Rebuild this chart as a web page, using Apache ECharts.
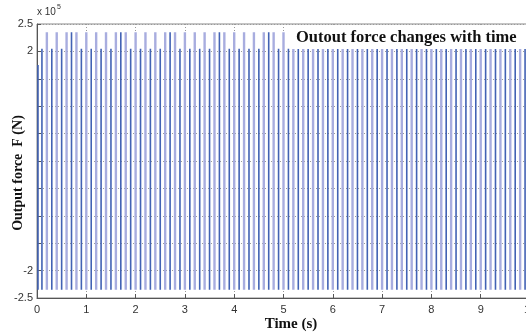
<!DOCTYPE html>
<html>
<head>
<meta charset="utf-8">
<script src="https://cdn.jsdelivr.net/npm/echarts@6/dist/echarts.min.js"></script>
<style>html,body{margin:0;padding:0;background:#fff;overflow:hidden}#c{width:526px;height:335px}</style>
</head>
<body>
<div id="c"></div>
<script>
// Output force in units of 1e5 N
const xTicks = [0,1,2,3,4,5,6,7,8,9,10];
const yTickLabels = ['-2.5','-2','2','2.5'];
const lightTimes = [0.2,0.4,0.6,0.8,1.0,1.2,1.4,1.6,1.8,2.0,2.2,2.4,2.6,2.8,3.0,3.2,3.4,3.6,3.8,4.0,4.2,4.4,4.6,4.8,5.0,5.2,5.4,5.6,5.8,6.0,6.2,6.4,6.6,6.8,7.0,7.2,7.4,7.6,7.8,8.0,8.2,8.4,8.6,8.8,9.0,9.2,9.4,9.6,9.8];
const lightTop = 2.35;
const lightBottom = -2.35;
const darkTimes = [0.02,0.1,0.3,0.5,0.7,0.9,1.1,1.3,1.5,1.7,1.9,2.1,2.3,2.5,2.7,2.9,3.1,3.3,3.5,3.7,3.9,4.1,4.3,4.5,4.7,4.9,5.1,5.3,5.5,5.7,5.9,6.1,6.3,6.5,6.7,6.9,7.1,7.3,7.5,7.7,7.9,8.1,8.3,8.5,8.7,8.9,9.1,9.3,9.5,9.7,9.9];
const darkTops = [1.75,2.05,2.05,2.05,2.35,2.05,2.05,2.05,2.05,2.35,2.05,2.05,2.05,2.05,2.35,2.05,2.05,2.05,2.05,2.35,2.05,2.05,2.05,2.05,2.35,2.05,2.05,2.05,2.05,2.35,2.05,2.05,2.05,2.05,2.35,2.05,2.05,2.05,2.05,2.35,2.05,2.05,2.05,2.05,2.35,2.05,2.05,2.05,2.05,2.35,2.05];
const darkBottom = -2.35;

function segs(times, tops, bottom) {
  const out = [];
  times.forEach((t, i) => {
    const top = Array.isArray(tops) ? tops[i] : tops;
    out.push([t, top], [t, bottom], [t, '-']);
  });
  return out;
}

const chart = echarts.init(document.getElementById('c'), null, {renderer: 'canvas'});
const serif = '"Liberation Serif", "DejaVu Serif", serif';
const sans = '"Liberation Sans", Arial, sans-serif';
chart.setOption({
  animation: false,
  grid: {left: 37, width: 493, top: 24, height: 274, show: true, borderColor: '#888', borderWidth: 1, containLabel: false, outerBoundsMode: 'none'},
  xAxis: {
    type: 'value', min: xTicks[0], max: xTicks[xTicks.length-1], interval: 1,
    axisLine: {onZero: false, lineStyle: {color: '#555'}},
    axisTick: {inside: true, length: 4, lineStyle: {color: '#555'}},
    axisLabel: {color: '#333', fontFamily: sans, fontSize: 11, margin: 6},
    splitLine: {show: true, lineStyle: {type: [1, 2], color: '#999'}}
  },
  yAxis: {
    type: 'value', min: -2.5, max: 2.5, interval: 0.5,
    axisLine: {show: true, onZero: false, lineStyle: {color: '#555'}},
    axisTick: {show: true, inside: true, length: 4, lineStyle: {color: '#555'}},
    axisLabel: {color: '#333', fontFamily: sans, fontSize: 11, margin: 4,
      formatter: v => { const s = String(v); return yTickLabels.includes(s) ? s : ''; }},
    splitLine: {show: true, lineStyle: {type: [1, 2], color: '#999'}}
  },
  title: {
    text: 'Outout force changes with time', left: 290, top: 26,
    backgroundColor: '#fff', padding: [3, 12, 3, 6],
    textStyle: {fontFamily: serif, fontWeight: 'bold', fontSize: 16.5, color: '#111'}
  },
  graphic: [
    {type: 'text', left: 37, top: 4, style: {text: '{a|x 10}{b|5}', rich: {a: {fontSize: 10, fontFamily: sans, fill: '#333', verticalAlign: 'bottom'}, b: {fontSize: 7, fontFamily: sans, fill: '#333', verticalAlign: 'top', padding: [0,0,6,1]}}}},
    {type: 'text', x: 18, y: 173, rotation: Math.PI/2, style: {text: 'Output force  F (N)', font: 'bold 14px ' + serif, fill: '#111', align: 'center', verticalAlign: 'middle'}},
    {type: 'text', x: 291, y: 324, style: {text: 'Time (s)', font: 'bold 15px ' + serif, fill: '#111', align: 'center', verticalAlign: 'middle'}}
  ],
  series: [
    {type: 'line', data: segs(lightTimes, lightTop, lightBottom), showSymbol: false, symbol: 'none', lineStyle: {color: '#a8addf', width: 2.4}, z: 2},
    {type: 'line', data: segs(darkTimes, darkTops, darkBottom), showSymbol: false, symbol: 'none', lineStyle: {color: '#4262b4', width: 1.6}, z: 3}
  ]
});
</script>
</body>
</html>
